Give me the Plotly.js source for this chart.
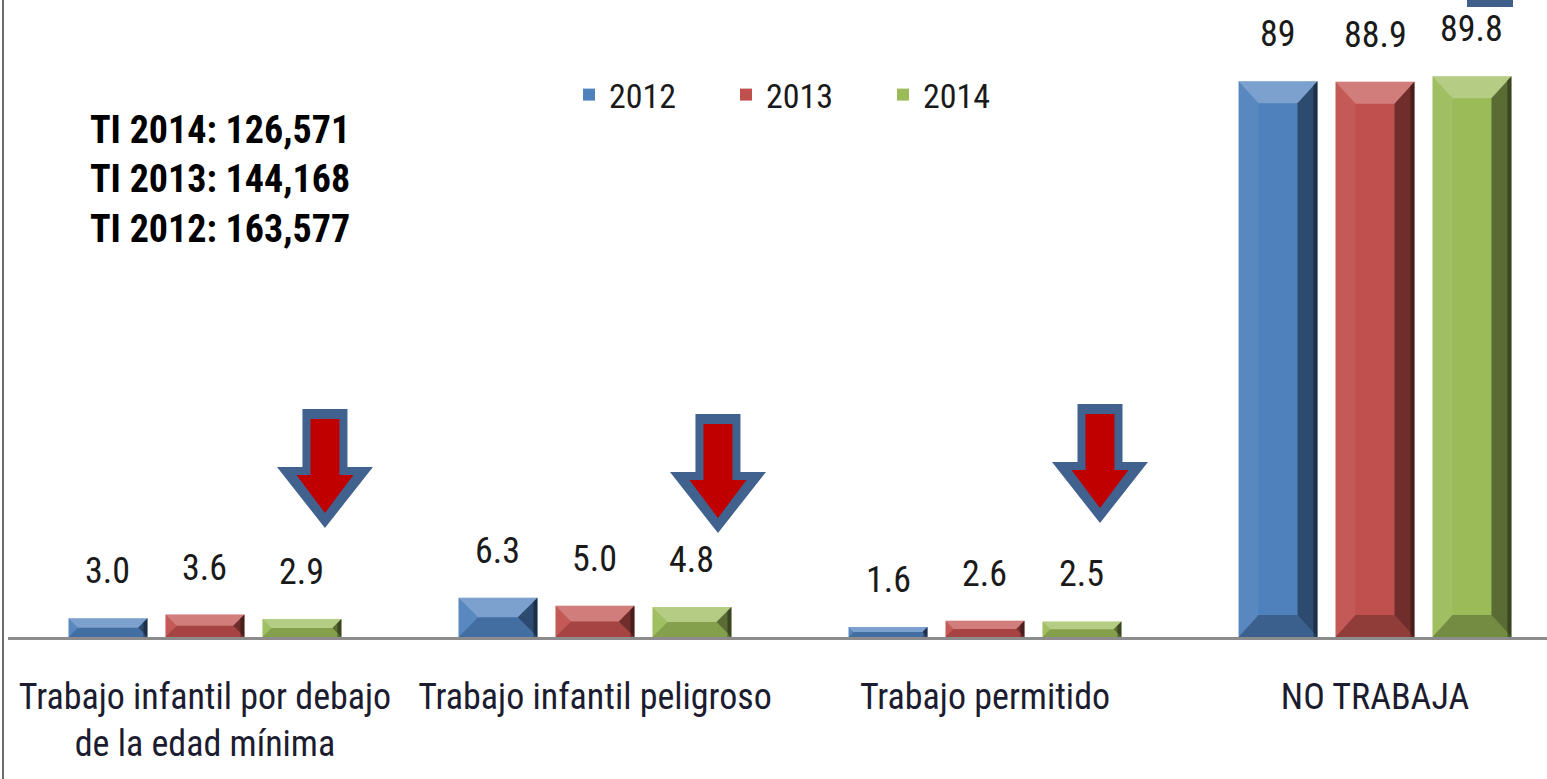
<!DOCTYPE html>
<html>
<head>
<meta charset="utf-8">
<script src="https://cdn.plot.ly/plotly-3.0.1.min.js"></script>
<style>html,body{margin:0;padding:0;background:#fff;}#chart{width:1547px;height:779px;}</style>
</head>
<body>
<div id="chart"></div>
<script>
// ---- data ----
var categories = ["Trabajo infantil por debajo<br>de la edad mínima", "Trabajo infantil peligroso", "Trabajo permitido", "NO TRABAJA"];
var years = ["2012", "2013", "2014"];
var values2012 = [3.0, 6.3, 1.6, 89];
var values2013 = [3.6, 5.0, 2.6, 88.9];
var values2014 = [2.9, 4.8, 2.5, 89.8];
var labels2012 = ["3.0", "6.3", "1.6", "89"];
var labels2013 = ["3.6", "5.0", "2.6", "88.9"];
var labels2014 = ["2.9", "4.8", "2.5", "89.8"];
var totalsText = ["TI 2014: 126,571", "TI 2013: 144,168", "TI 2012: 163,577"];

// ---- style ----
var W = 1547, H = 779;
var M = {l: 8, r: 0, t: 0, b: 142};
var xRange = [-0.505, 3.441];
var yRange = [0, 102];
var bargap = 0.254, bargroupgap = 0.186;
var colors = ["#4F81BD", "#C0504D", "#9BBB59"];
var FONT = "'Liberation Sans Narrow', 'Arial Narrow', 'Roboto Condensed', 'Open Sans', sans-serif";

var plotW = W - M.l - M.r, plotH = H - M.t - M.b;
var pxX = plotW / (xRange[1] - xRange[0]);
var pxY = plotH / (yRange[1] - yRange[0]);
var slot = (1 - bargap) / 3;
var halfW = slot * (1 - bargroupgap) / 2;

var series = [values2012, values2013, values2014];
var labels = [labels2012, labels2013, labels2014];
var xs = categories.map(function (c, i) { return i; });

var traces = series.map(function (vals, j) {
  return {
    type: "bar", name: years[j], x: xs, y: vals,
    marker: {color: colors[j], line: {width: 0}},
    hoverinfo: "skip"
  };
});

var shapes = [];
var annotations = [];

function poly(pts) {
  return "M" + pts.map(function (p) { return p[0] + "," + p[1]; }).join("L") + "Z";
}

// bevel faces + value labels
series.forEach(function (vals, j) {
  vals.forEach(function (v, i) {
    var cx = i + (j - 1) * slot;
    var x0 = cx - halfW, x1 = cx + halfW;
    var hpx = v * pxY;
    var bypx = Math.min(22, hpx / 2);
    var bxpx = Math.min(20, Math.max(bypx, 4));
    var bx = bxpx / pxX, by = bypx / pxY;
    var small = hpx < 44;
    var faces = [
      {p: [[x0, v], [x1, v], [x1 - bx, v - by], [x0 + bx, v - by]], c: "rgba(255,255,255,0.26)"},
      {p: [[x0, 0], [x0, v], [x0 + bx, v - by], [x0 + bx, by]], c: "rgba(255,255,255,0.06)"},
      {p: [[x0, 0], [x1, 0], [x1 - bx, by], [x0 + bx, by]], c: small ? "rgba(0,0,0,0.14)" : "rgba(0,0,0,0.25)"},
      {p: [[x1, 0], [x1, v], [x1 - bx, v - by], [x1 - bx, by]], c: "rgba(0,0,0,0.42)"},
      {p: [[x1 - 4 / pxX, 0], [x1, 0], [x1, v], [x1 - 4 / pxX, v - Math.min(4, bypx) / pxY]], c: "rgba(0,0,0,0.35)"}
    ];
    faces.forEach(function (f) {
      shapes.push({type: "path", xref: "x", yref: "y", path: poly(f.p), fillcolor: f.c, line: {width: 0}, layer: "above"});
    });
    annotations.push({
      x: cx, y: v, xref: "x", yref: "y", text: labels[j][i], showarrow: false,
      yanchor: "bottom", yshift: 24,
      font: {family: FONT, size: 36, color: "#1a1a1a"}
    });
  });
});

// down arrows next to the three child-labour groups
var arrowDx = [120, 123, 115];
var arrowDy = [5, 0, 10];
for (var a = 0; a < 3; a++) {
  var outer = [[-22.5, 223], [22.5, 223], [22.5, 165], [48, 165], [0, 104], [-48, 165], [-22.5, 165]];
  var inner = [[-14.5, 213], [14.5, 213], [14.5, 157], [28.5, 157], [0, 119], [-28.5, 157], [-14.5, 157]];
  [[outer, "#41628F"], [inner, "#C00000"]].forEach(function (pair) {
    var pts = pair[0].map(function (p) {
      return [a + (arrowDx[a] + p[0]) / pxX, (p[1] + arrowDy[a]) / pxY];
    });
    shapes.push({type: "path", xref: "x", yref: "y", path: poly(pts), fillcolor: pair[1], line: {width: 0}, layer: "above"});
  });
}

// small cut-off dark-blue block at top right
shapes.push({type: "rect", xref: "paper", yref: "paper",
  x0: (1467 - M.l) / plotW, x1: (1513 - M.l) / plotW, y0: (plotH - 7) / plotH, y1: 1.01,
  fillcolor: "#3F5F8A", line: {width: 0}});
// left frame line
shapes.push({type: "line", xref: "paper", yref: "paper",
  x0: (3 - M.l) / plotW, x1: (3 - M.l) / plotW, y0: -M.b / plotH, y1: 1,
  line: {color: "#6b6b6b", width: 2}});

annotations.push({
  xref: "paper", yref: "paper", x: (88 - M.l) / plotW, y: (plotH - 180) / plotH,
  xanchor: "left", yanchor: "middle", align: "left", showarrow: false,
  text: totalsText.map(function (t) { return "<b>" + t + "</b>"; }).join("<br>"),
  font: {family: FONT, size: 38, color: "#000"}
});

var layout = {
  width: W, height: H, margin: M,
  paper_bgcolor: "#fff", plot_bgcolor: "#fff",
  barmode: "group", bargap: bargap, bargroupgap: bargroupgap,
  showlegend: true,
  legend: {orientation: "h", x: (569 - M.l) / plotW, xanchor: "left", y: (plotH - 95) / plotH, yanchor: "middle",
    font: {family: FONT, size: 34, color: "#1a1a1a"}, bgcolor: "rgba(0,0,0,0)", entrywidth: 112, entrywidthmode: "pixels"},
  xaxis: {type: "linear", range: xRange, tickvals: xs, ticktext: categories,
    showline: true, linecolor: "#8c8c8c", linewidth: 3, ticks: "", showgrid: false, zeroline: false,
    ticklabelstandoff: 26, tickfont: {family: FONT, size: 36, color: "#1c1c30"}, fixedrange: true},
  yaxis: {range: yRange, visible: false, showgrid: false, zeroline: false, fixedrange: true},
  shapes: shapes, annotations: annotations
};

Plotly.newPlot("chart", traces, layout, {displayModeBar: false, staticPlot: true});
</script>
</body>
</html>
